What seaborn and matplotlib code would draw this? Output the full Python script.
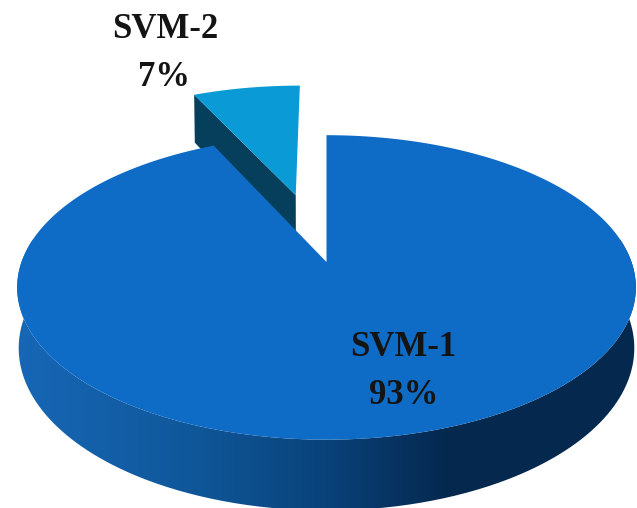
import numpy as np
import matplotlib
matplotlib.use("Agg")
import matplotlib.pyplot as plt
from matplotlib.colors import LinearSegmentedColormap
import seaborn as sns
from matplotlib.path import Path
from matplotlib.patches import PathPatch

labels = ["SVM-1", "SVM-2"]
shares = [93, 7]
colors = ["#0f6cc6", "#0a9ad6"]
explode = [0, 0.5]

sns.set_theme(style="white")
fig = plt.figure(figsize=(6.37, 5.08), dpi=100)
ax = fig.add_axes([0, 0, 1, 1])

wedges, _ = ax.pie(shares, colors=colors, explode=explode, startangle=90,
                   counterclock=False, radius=1, center=(0, 0))
ax.set_aspect("auto")
ax.axis("off")

CX, CY, K, A, B, D = 326.5, 262, 305.0, 148.0, 0.167, 59.0


def project(x, y, z=0.0):
    x, y = np.asarray(x, float), np.asarray(y, float)
    den = 1 + B * y
    # the lower rim is slightly narrower, as in a perspective view
    return CX + K * x / den * (1 - 0.005 * z), CY - A * y / den + z * D / den


def outline(w):
    """Wedge outline, from the wedge the pie returned."""
    cx, cy = w.center
    t = np.deg2rad(np.linspace(w.theta1, w.theta2, 400))
    xs = np.r_[cx, cx + w.r * np.cos(t), cx]
    ys = np.r_[cy, cy + w.r * np.sin(t), cy]
    return xs, ys


def gradient(path, stops, zorder):
    cmap = LinearSegmentedColormap.from_list("g", stops)
    ext = path.get_extents()
    im = ax.imshow(np.linspace(0, 1, 256)[None, :], cmap=cmap, aspect="auto",
                   extent=(ext.x0, ext.x1, ext.y1, ext.y0), zorder=zorder)
    im.set_clip_path(PathPatch(path, transform=ax.transData))


# side of the big slice
t = np.linspace(0.95 * np.pi, 2.05 * np.pi, 400)
x0, y0 = np.cos(t), np.sin(t)
top = np.column_stack(project(x0, y0))
bot = np.column_stack(project(x0, y0, 1.0))
rim = Path(np.vstack([top, bot[::-1], top[:1]]))
gradient(rim, [(0, "#1767b6"), (0.3, "#0f5698"), (0.5, "#0a427a"),
               (0.7, "#05284e"), (1, "#062a4e")], 1)

# cut face of the exploded slice
w = wedges[1]
cx, cy = w.center
a = np.deg2rad(w.theta2)
ex, ey = cx + w.r * np.cos(a), cy + w.r * np.sin(a)
face = [project(ex, ey), project(cx, cy), project(cx, cy, 1.0), project(ex, ey, 1.0)]
ax.fill([p[0] for p in face], [p[1] for p in face], color="#053f5c", lw=0, zorder=2)

# top faces: the big slice covers the exploded slice's cut face
for w, c, z in zip(wedges, colors, [4, 3]):
    xs, ys = outline(w)
    px, py = project(xs, ys)
    w.set_visible(False)
    ax.fill(px, py, color=c, lw=0, zorder=z)

ax.set_xlim(0, 637)
ax.set_ylim(508, 0)

font = dict(family="Liberation Serif", weight="bold", color="#141414",
            ha="center", va="center", fontsize=25, zorder=6)
ax.text(165, 29, labels[1], **font)
ax.text(164, 78, f"{shares[1]}%", **font)
ax.text(403, 347, labels[0], **font)
ax.text(404, 395, f"{shares[0]}%", **font)

fig.savefig("out.png", dpi=100)
